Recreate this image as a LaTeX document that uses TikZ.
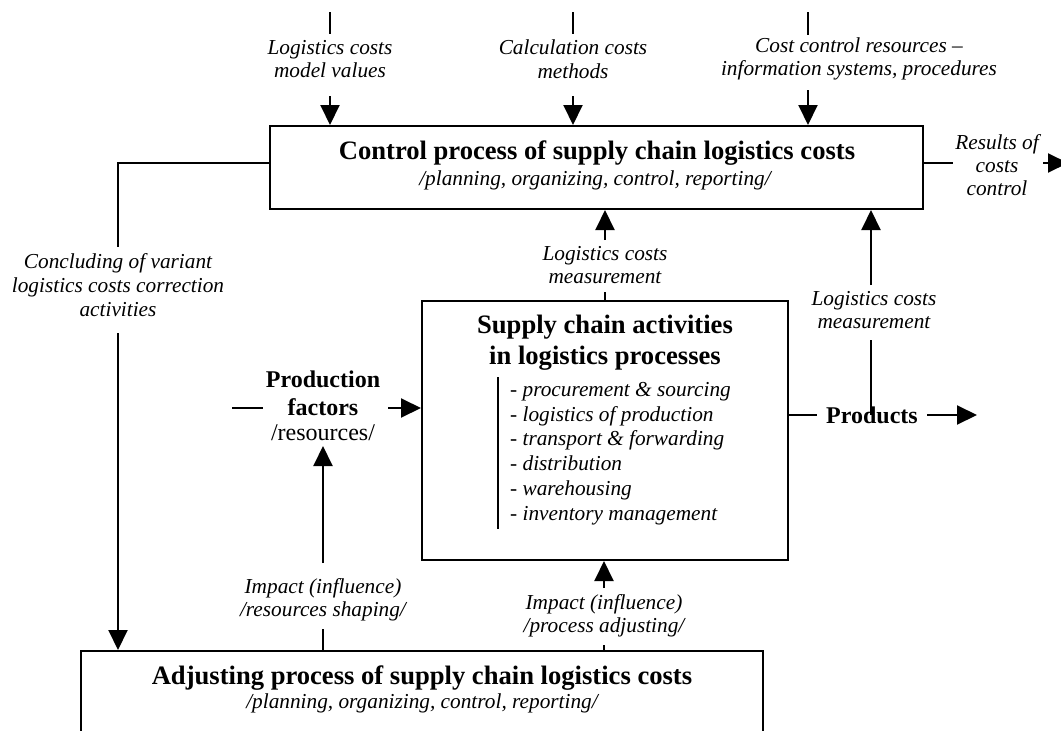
\documentclass[tikz,border=0pt]{standalone}
\usepackage{fontspec}
\setmainfont{Liberation Serif}
\usetikzlibrary{arrows.meta}
\begin{document}
\begin{tikzpicture}[x=1pt,y=-1pt,
  box/.style={draw,line width=2pt,inner sep=0pt},
  lbl/.style={font=\fontsize{21.3}{23.5}\selectfont\itshape,align=center,inner sep=0pt},
  ttl/.style={font=\fontsize{26.6}{31}\selectfont\bfseries,align=center,inner sep=0pt},
  bld/.style={font=\fontsize{24}{28}\selectfont\bfseries,align=center,inner sep=0pt},
  con/.style={line width=2pt},
  arr/.style={line width=2pt,-{Triangle[length=20pt,width=19pt]}},
]
\useasboundingbox (0,0) rectangle (1061,731);
\clip (0,0) rectangle (1061,731);

% boxes
\node[box,minimum width=653pt,minimum height=83pt] (ctrl) at (596.5,167.5) {};
\node[box,minimum width=366pt,minimum height=259pt] (mid) at (605,430.5) {};
\node[box,minimum width=682pt,minimum height=160pt] (adj) at (422,731) {};

% box texts
\node[ttl] (ctrlT) at (597,153) {Control process of supply chain logistics costs};
\node[lbl] (ctrlS) at (595,180) {/planning, organizing, control, reporting/};
\node[ttl,font=\fontsize{26.6}{31}\selectfont\bfseries] (midT) at (605,343) {Supply chain activities\\in logistics processes};
\node[anchor=north west,align=left,inner sep=0pt,font=\fontsize{21.3}{24.8}\selectfont\itshape] (list) at (510,382)
  {- procurement \& sourcing\\- logistics of production\\- transport \& forwarding\\- distribution\\- warehousing\\- inventory management};
\coordinate (barT) at (498,377);
\coordinate (barB) at (498,529);
\draw[con] (barT) -- (barB);
\node[ttl] (adjT) at (422,678) {Adjusting process of supply chain logistics costs};
\node[lbl] (adjS) at (422,703) {/planning, organizing, control, reporting/};

% top inputs
\coordinate (a1) at (330,12); \coordinate (a1b) at (330,34); \coordinate (a1c) at (330,96);
\node[lbl] (l1) at (330,59) {Logistics costs\\model values};
\draw[con] (a1) -- (a1b);
\draw[arr] (a1c) -- (a1c |- ctrl.north);

\coordinate (a2) at (573,12); \coordinate (a2b) at (573,34); \coordinate (a2c) at (573,96);
\node[lbl] (l2) at (573,59) {Calculation costs\\methods};
\draw[con] (a2) -- (a2b);
\draw[arr] (a2c) -- (a2c |- ctrl.north);

\coordinate (a3) at (808,12); \coordinate (a3b) at (808,35); \coordinate (a3c) at (808,90);
\node[lbl] (l3) at (859,59) {Cost control resources \textendash\\information systems, procedures};
\draw[con] (a3) -- (a3b);
\draw[arr] (a3c) -- (a3c |- ctrl.north);

% results
\coordinate (r1) at (953,163);
\draw[con] (ctrl.east |- r1) -- (r1);
\node[lbl,font=\fontsize{21.3}{23}\selectfont\itshape] (res) at (997,165) {Results of\\costs\\control};
\coordinate (r2) at (1043,163); \coordinate (r3) at (1068,163);
\draw[arr] (r2) -- (r3);

% feedback left
\coordinate (f0) at (270,163); \coordinate (f1) at (118,163); \coordinate (f2) at (118,247); \coordinate (f3) at (118,333);
\draw[con] (f0) -- (f1) -- (f2);
\node[lbl,font=\fontsize{21.3}{24}\selectfont\itshape] (conc) at (118,285) {Concluding of variant\\logistics costs correction\\activities};
\draw[arr] (f3) -- (f3 |- adj.north);

% measurement centre
\coordinate (m1) at (605,292); \coordinate (m2) at (605,240);
\draw[con] (mid.north) -- (m1);
\node[lbl] (meas1) at (605,265) {Logistics costs\\measurement};
\draw[arr] (m2) -- (m2 |- ctrl.south);

% measurement right
\coordinate (n0) at (871,415); \coordinate (n1) at (871,340); \coordinate (n2) at (871,285);
\node[lbl] (meas2) at (874,310) {Logistics costs\\measurement};
\draw[con] (n0) -- (n1);
\draw[arr] (n2) -- (n2 |- ctrl.south);

% products
\coordinate (p1) at (817,415);
\draw[con] (mid.east |- p1) -- (p1);
\node[bld] (prod) at (872,415) {Products};
\coordinate (p2) at (927,415); \coordinate (p3) at (977,415);
\draw[arr] (p2) -- (p3);

% production factors
\coordinate (q0) at (232,408); \coordinate (q1) at (263,408); \coordinate (q2) at (388,408);
\draw[con] (q0) -- (q1);
\node[bld] (pf) at (323,393) {Production\\factors};
\node[font=\fontsize{24}{28}\selectfont,inner sep=0pt] (res2) at (323,433) {/resources/};
\draw[arr] (q2) -- (q2 -| mid.west);

% impact left
\coordinate (i1) at (323,563); \coordinate (i2) at (323,446); \coordinate (i3) at (323,629);
\draw[arr] (i1) -- (i2);
\node[lbl] (imp1) at (323,600) {Impact (influence)\\/resources shaping/};
\draw[con] (i3) -- (i3 |- adj.north);

% impact right
\coordinate (j1) at (604,588); \coordinate (j2) at (604,645);
\draw[arr] (j1) -- (j1 |- mid.south);
\node[lbl] (imp2) at (604,616) {Impact (influence)\\/process adjusting/};
\draw[con] (j2) -- (j2 |- adj.north);
\end{tikzpicture}
\end{document}
